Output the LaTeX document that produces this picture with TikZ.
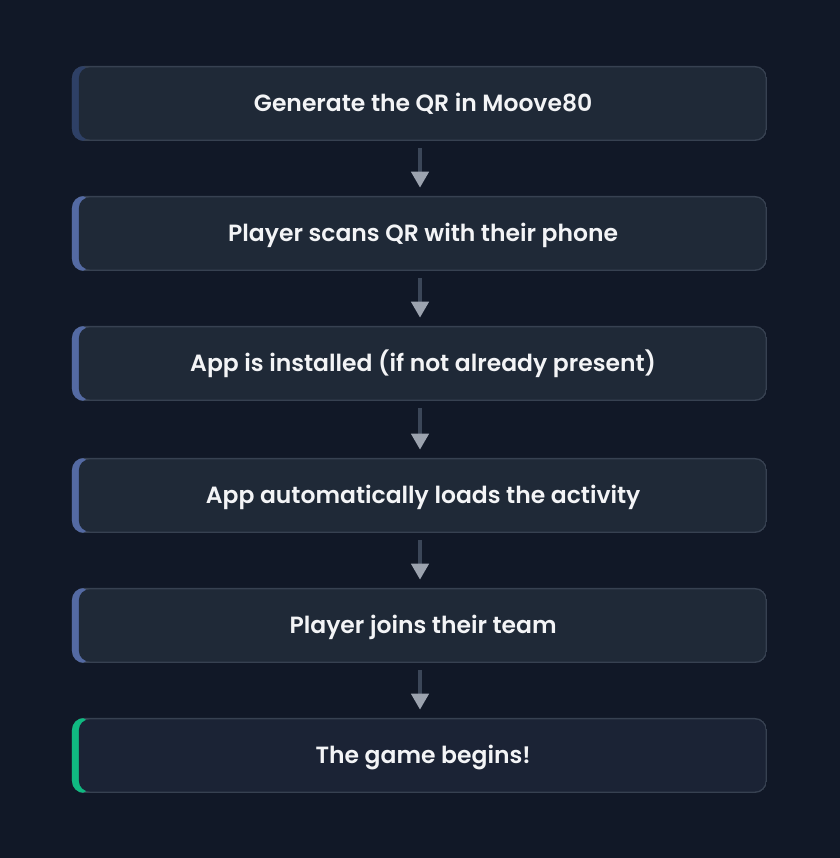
\documentclass[tikz,border=0pt]{standalone}
\usepackage{fontspec}
\setmainfont{Poppins}[UprightFont=* SemiBold]
\usetikzlibrary{arrows.meta,positioning}

\definecolor{pagebg}{HTML}{111827}
\definecolor{boxfill}{HTML}{1F2937}
\definecolor{lastfill}{HTML}{1B2335}
\definecolor{boxedge}{HTML}{374151}
\definecolor{firstbar}{HTML}{2E4066}
\definecolor{stepbar}{HTML}{546AA3}
\definecolor{donebar}{HTML}{10B981}
\definecolor{stemgray}{HTML}{3B4658}
\definecolor{tipgray}{HTML}{9CA3AF}
\definecolor{steptext}{HTML}{F3F4F6}

\def\barcol{stepbar}
\def\insidecol{boxfill}
\tikzset{
	bar/.store in=\barcol,
	inside/.store in=\insidecol,
	stepbox/.style={
		minimum width=521.25pt, minimum height=56.25pt, inner sep=0pt,
		text height=14pt, text depth=2pt,
		rounded corners=9pt, text=steptext, font=\fontsize{17.6}{21}\selectfont,
		path picture={
			\fill[boxedge] (path picture bounding box.south west) rectangle (path picture bounding box.north east);
			\fill[\barcol] (path picture bounding box.south west) rectangle ([xshift=15pt]path picture bounding box.north west);
			\fill[\insidecol, rounded corners=8pt] ([xshift=5.2pt,yshift=1.1pt]path picture bounding box.south west) rectangle ([xshift=-1.1pt,yshift=-1.1pt]path picture bounding box.north east);
		}
	},
	flowline/.style={draw=stemgray, line width=3pt, -{Triangle[width=12.75pt,length=12pt,color=tipgray]},
		shorten <=5.25pt, shorten >=6pt}
}

\begin{document}
\begin{tikzpicture}
	%% background and picture size
	\fill[pagebg] (0,0) rectangle (630pt,-643.5pt);
	\useasboundingbox (0,0) rectangle (630pt,-643.5pt);
	%% the six steps
	\node[bar=firstbar, stepbox] (gen) at (314.6pt,-77.6pt) {\hspace*{5.5pt}Generate the QR in Moove80};
	\node[bar=stepbar, stepbox] (scan) at (314.6pt,-175.1pt) {\hspace*{5.5pt}Player scans QR with their phone};
	\node[stepbox] (install) at (314.6pt,-272.6pt) {\hspace*{5.5pt}App is installed (if not already present)};
	\node[stepbox] (load) at (314.6pt,-371.6pt) {\hspace*{5.5pt}App automatically loads the activity};
	\node[stepbox] (join) at (314.6pt,-469.1pt) {\hspace*{5.5pt}Player joins their team};
	\node[bar=donebar, inside=lastfill, stepbox] (begin) at (314.6pt,-566.6pt) {\hspace*{5.5pt}The game begins!};
	%% arrows between the steps
	\foreach \a/\b in {gen/scan, scan/install, install/load, load/join, join/begin}
		\draw[flowline] ([xshift=0.4pt]\a.south) -- ([xshift=0.4pt]\b.north);
\end{tikzpicture}
\end{document}
